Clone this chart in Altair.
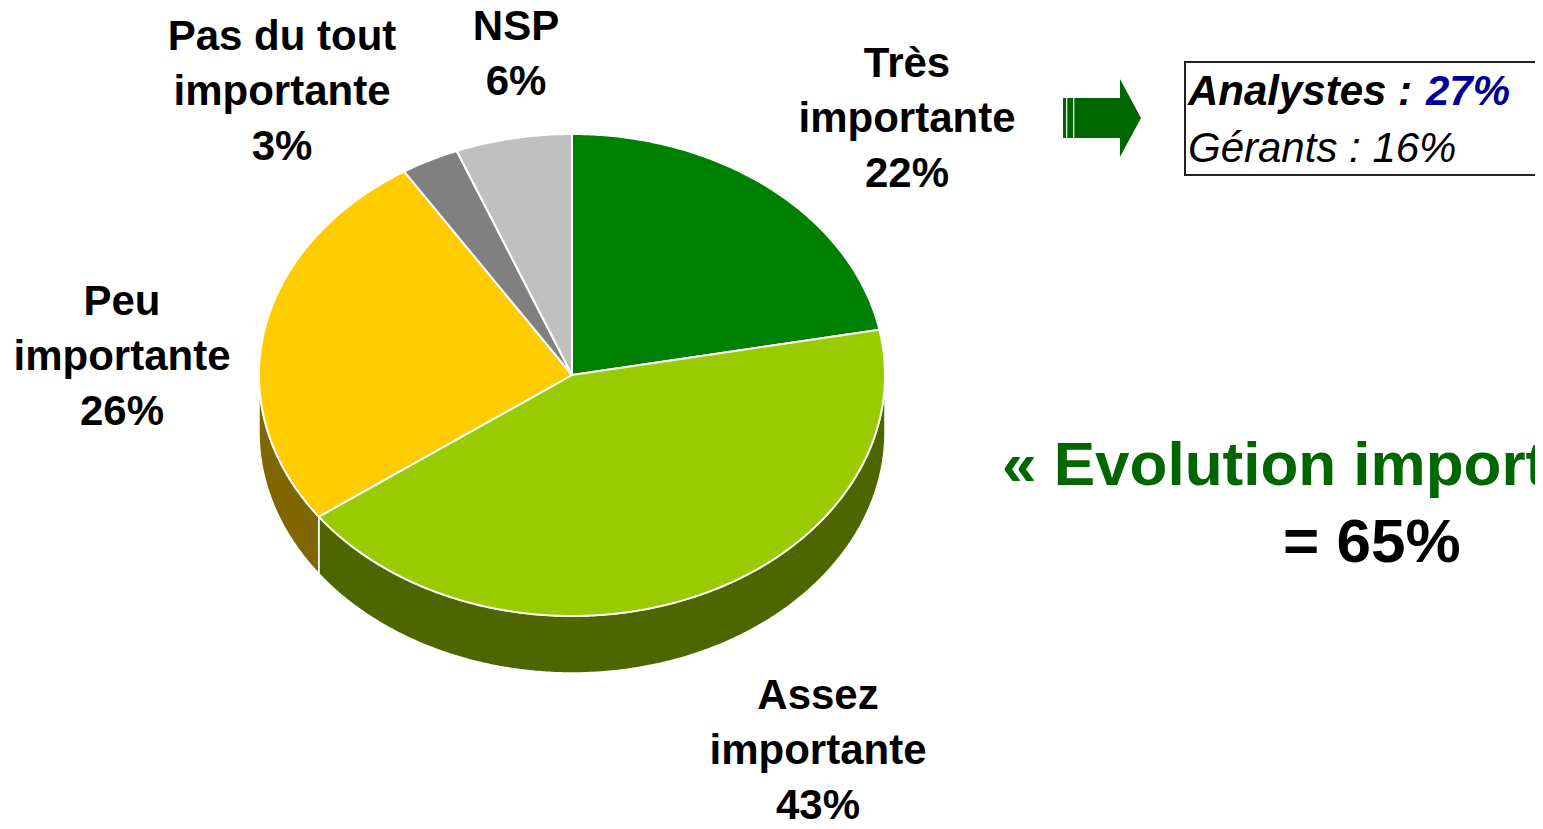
import numpy as np
import pandas as pd
import altair as alt

# ---- data ----
categories = ["Très importante", "Assez importante", "Peu importante",
              "Pas du tout importante", "NSP"]
values = [22, 43, 26, 3, 6]
labels = ["Très\nimportante\n22%", "Assez\nimportante\n43%", "Peu\nimportante\n26%",
          "Pas du tout\nimportante\n3%", "NSP\n6%"]
top_colors = ["#008000", "#99cc00", "#ffcc00", "#808080", "#c0c0c0"]
side_colors = ["#005a00", "#4d6600", "#806600", "#5a5a5a", "#8c8c8c"]

analysts_label = "Analystes : "
analysts_value = "27%"
managers_text = "Gérants : 16%"
evolution_text = "« Evolution importante »"
evolution_value = "= 65%"

# ---- layout (page pixels -> pie units) ----
W, H = 1527, 813
PCX, PCY = 572, 375      # pie centre on the page
RX, RY = 313, 241        # ellipse radii
DEPTH = 57               # side wall depth


def ux(px):
    return (px - PCX) / RX


def uy(py):
    return (PCY - py) / RY


label_pos = [(907, 77), (818, 709), (122, 315), (282, 50), (516, 40)]

# ---- geometry table built from values ----
d = DEPTH / RY
cum = np.concatenate([[0], np.cumsum(values)]) / sum(values) * 360.0
top_rows, wall_rows = [], []
for k, cat in enumerate(categories):
    a1, a2 = cum[k], cum[k + 1]
    ts = np.radians(np.linspace(a1, a2, int((a2 - a1) * 2) + 2))
    pts = [(0.0, 0.0)] + [(np.sin(t), np.cos(t)) for t in ts] + [(0.0, 0.0)]
    for i, (x, y) in enumerate(pts):
        top_rows.append(dict(key=f"t{k}", cat=cat, color=top_colors[k], i=i, x=x, y=y))
    lo, hi = max(a1, 90.0), min(a2, 270.0)
    if hi > lo:
        ts = np.radians(np.linspace(lo, hi, int((hi - lo) * 2) + 2))
        pts = [(np.sin(t), np.cos(t)) for t in ts] + \
              [(np.sin(t), np.cos(t) - d) for t in ts[::-1]]
        pts.append(pts[0])
        for i, (x, y) in enumerate(pts):
            wall_rows.append(dict(key=f"w{k}", cat=cat, color=side_colors[k], i=i, x=x, y=y))

top_df = pd.DataFrame(top_rows)
wall_df = pd.DataFrame(wall_rows)
lab_df = pd.DataFrame({"text": labels,
                       "x": [ux(p[0]) for p in label_pos],
                       "y": [uy(p[1]) for p in label_pos]})

xs = alt.Scale(domain=[ux(8), ux(8 + W)], nice=False, zero=False)
ys = alt.Scale(domain=[uy(8 + H), uy(8)], nice=False, zero=False)
X = lambda: alt.X("x:Q", scale=xs, axis=None)
Y = lambda: alt.Y("y:Q", scale=ys, axis=None)

walls = alt.Chart(wall_df).mark_line(stroke="white", strokeWidth=1.5, strokeJoin="round").encode(
    x=X(), y=Y(), detail="key:N", order="i:Q", fill=alt.Fill("color:N", scale=None))

tops = alt.Chart(top_df).mark_line(stroke="white", strokeWidth=2, strokeJoin="round").encode(
    x=X(), y=Y(), detail="key:N", order="i:Q", fill=alt.Fill("color:N", scale=None))

txt = alt.Chart(lab_df).mark_text(
    font="Liberation Sans", fontSize=42, fontWeight="bold", color="black",
    align="center", baseline="alphabetic", lineBreak="\n", lineHeight=55
).encode(x=X(), y=Y(), text="text:N")

# arrow
arrow_df = pd.DataFrame({"x": [ux(1102)], "y": [uy(118)]})
arrow_path = ("M-1 -0.51 L-0.92 -0.51 L-0.92 0.51 L-1 0.51 Z "
              "M-0.89 -0.51 L-0.74 -0.51 L-0.74 0.51 L-0.89 0.51 Z "
              "M-0.71 -0.51 L0.46 -0.51 L0.46 -1 L1 0 L0.46 1 L0.46 0.51 L-0.71 0.51 Z")
arrow = alt.Chart(arrow_df).mark_point(
    shape=arrow_path, size=78 * 78, filled=True, fill="#006600", opacity=1, strokeWidth=0
).encode(x=X(), y=Y())

# box
box_df = pd.DataFrame({"x": [ux(1185)], "x2": [ux(1580)], "y": [uy(62)], "y2": [uy(175)]})
box = alt.Chart(box_df).mark_rect(fill="white", stroke="#222222", strokeWidth=2).encode(
    x=X(), x2="x2:Q", y=Y(), y2="y2:Q")

box_txt_df = pd.DataFrame({
    "text": [analysts_label, analysts_value, managers_text],
    "x": [ux(1188), ux(1426), ux(1188)],
    "y": [uy(105), uy(105), uy(162)],
    "col": ["black", "#000099", "black"],
})
box_txt_b = alt.Chart(box_txt_df.iloc[:2]).mark_text(
    font="Liberation Sans", fontSize=42, fontWeight="bold", fontStyle="italic",
    align="left", baseline="alphabetic"
).encode(x=X(), y=Y(), text="text:N", color=alt.Color("col:N", scale=None))
box_txt_n = alt.Chart(box_txt_df.iloc[2:]).mark_text(
    font="Liberation Sans", fontSize=42, fontWeight="normal", fontStyle="italic",
    align="left", baseline="alphabetic", color="black"
).encode(x=X(), y=Y(), text="text:N")

evo_df = pd.DataFrame({"text": [evolution_text, evolution_value],
                       "x": [ux(1002), ux(1283)], "y": [uy(485), uy(562)],
                       "col": ["#006600", "black"]})
evo = alt.Chart(evo_df).mark_text(
    font="Liberation Sans", fontSize=62, fontWeight="bold", align="left", baseline="alphabetic"
).encode(x=X(), y=Y(), text="text:N", color=alt.Color("col:N", scale=None))

chart = alt.layer(walls, tops, txt, arrow, box, box_txt_b, box_txt_n, evo).properties(
    width=W, height=H, padding=0, autosize=alt.AutoSizeParams(type="none"), background="white"
).configure_view(stroke=None)

chart.save("out.html", embed_options={"renderer": "svg", "actions": False})
